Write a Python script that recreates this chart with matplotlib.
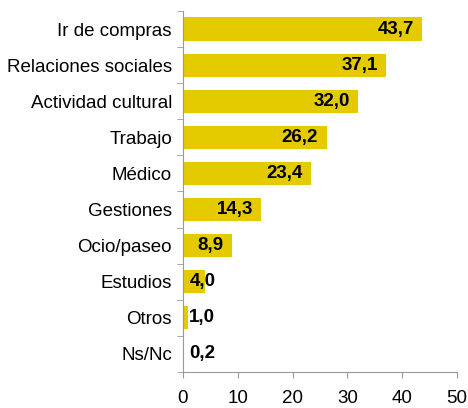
import numpy as np
import matplotlib
matplotlib.use('Agg')
import matplotlib.pyplot as plt
from matplotlib.ticker import FixedLocator

plt.rcParams['font.family'] = ['Liberation Sans', 'DejaVu Sans']

categories = ['Ir de compras', 'Relaciones sociales', 'Actividad cultural', 'Trabajo',
              'Médico', 'Gestiones', 'Ocio/paseo', 'Estudios', 'Otros', 'Ns/Nc']
values = [43.7, 37.1, 32.0, 26.2, 23.4, 14.3, 8.9, 4.0, 1.0, 0.2]
labels = ['43,7', '37,1', '32,0', '26,2', '23,4', '14,3', '8,9', '4,0', '1,0', '0,2']

fig = plt.figure(figsize=(4.68, 4.08), dpi=100)
ax = fig.add_axes([183 / 468, 1 - 372 / 408, (457 - 183) / 468, (372 - 11) / 408])

y = np.arange(len(categories))
ax.barh(y, values, height=0.64, color='#E3CB00')
ax.set_ylim(len(categories) - 0.5, -0.5)
ax.set_xlim(0, 50)

for yi, v, lab in zip(y, values, labels):
    if v >= 6:
        ax.annotate(lab, (v, yi), xytext=(-6, 0), textcoords='offset points',
                    ha='right', va='center', fontsize=13.5, fontweight='bold')
    else:
        ax.annotate(lab, (0, yi), xytext=(4.5, 0), textcoords='offset points',
                    ha='left', va='center', fontsize=13.5, fontweight='bold')

ax.set_yticks(y)
ax.set_yticklabels(categories, fontsize=13.5)
ax.yaxis.set_minor_locator(FixedLocator(np.arange(-0.5, len(categories), 1)))
ax.tick_params(axis='y', which='major', length=0, pad=8)
ax.tick_params(axis='y', which='minor', length=4, color='#999999', direction='out')
ax.set_xticks(np.arange(0, 51, 10))
ax.tick_params(axis='x', labelsize=13.5, length=4, color='#999999', pad=9)

for s in ['top', 'right']:
    ax.spines[s].set_visible(False)
for s in ['left', 'bottom']:
    ax.spines[s].set_color('#999999')
    ax.spines[s].set_linewidth(0.8)

fig.savefig('out.png', dpi=100)
